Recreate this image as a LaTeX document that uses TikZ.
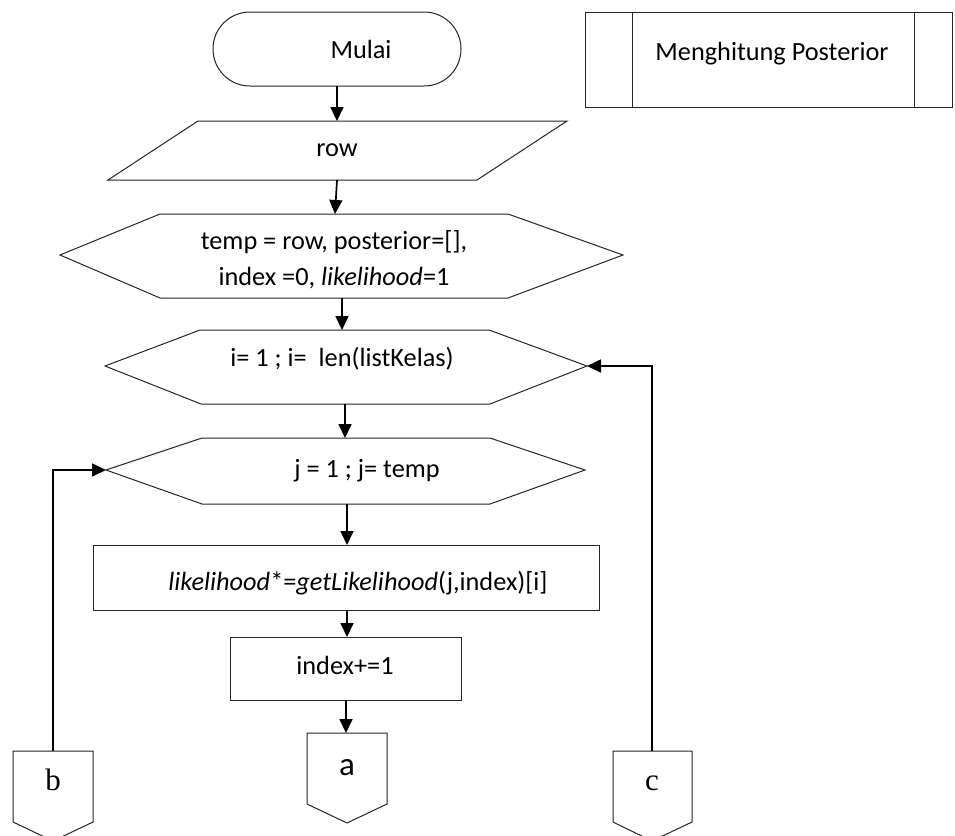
\documentclass[tikz,border=0pt]{standalone}
\usepackage{fontspec}
\setmainfont{Carlito}
\newfontfamily\serifletters{Liberation Serif}
\usetikzlibrary{arrows.meta}
\begin{document}
\begin{tikzpicture}[x=1pt,y=-1pt,
  outline/.style={draw=black!85, line width=1pt, fill=white},
  flow/.style={draw=black, line width=1.7pt, -{Triangle[length=14pt,width=13pt]}},
  label/.style={font=\fontsize{26.3}{36}\selectfont, inner sep=0, anchor=base},
  conn/.style={font=\serifletters\fontsize{31}{36}\selectfont, inner sep=0, anchor=base}]
\useasboundingbox (0,0) rectangle (955,835);
\clip (0,0) rectangle (955,835);

% start terminal
\draw[outline, rounded corners=36.9pt] (213,12) rectangle (461,86);
\node[label] (mulai) at (361,58) {Mulai};
\coordinate (mulaiS) at (337,86);

% predefined process (subroutine title)
\draw[outline] (585,12) rectangle (952,107);
\draw[outline] (632,12) -- (632,107) (914,12) -- (914,107);
\node[label] (title) at (772,60) {Menghitung Posterior};

% input parallelogram
\draw[outline] (198,121) -- (567,121) -- (477,180) -- (108,180) -- cycle;
\node[label] (row) at (337,156) {row};
\coordinate (rowN) at (337,121);
\coordinate (rowS) at (337,180);

% initialisation hexagon
\draw[outline] (160,214) -- (508,214) -- (623,255) -- (508,298) -- (160,298) -- (60,255) -- cycle;
\node[label] (init1) at (334,249) {temp = row, posterior=[],};
\node[label] (init2) at (334,285) {index =0, \textit{likelihood}=1};
\coordinate (h1N) at (335,214);
\coordinate (h1S) at (342,298);

% outer loop hexagon
\draw[outline] (200,330) -- (489,330) -- (587,366) -- (490,404) -- (201,404) -- (105,366) -- cycle;
\node[label] (loopi) at (342,366) {i= 1 ; i=\ \ len(listKelas)};
\coordinate (h2N) at (342,330);
\coordinate (h2S) at (345,404);
\coordinate (h2E) at (587,366);

% inner loop hexagon
\draw[outline] (202,438) -- (490,438) -- (585,470) -- (490,504) -- (202,504) -- (106,470) -- cycle;
\node[label] (loopj) at (367,477) {j = 1 ; j= temp};
\coordinate (h3N) at (345,438);
\coordinate (h3S) at (347,504);
\coordinate (h3W) at (106,470);

% process boxes
\draw[outline] (93,545) rectangle (599,610);
\node[label] (calc) at (358,590) {\textit{likelihood}*=\textit{getLikelihood}(j,index)[i]};
\coordinate (p1N) at (347,545);
\coordinate (p1S) at (347,610);

\draw[outline] (230,637) rectangle (461,700);
\node[label] (incr) at (345,674) {index+=1};
\coordinate (p2N) at (347,637);
\coordinate (p2S) at (346,700);

% off-page connectors
\draw[outline] (307,733) -- (387,733) -- (387,804) -- (347,823) -- (307,804) -- cycle;
\node[label, font=\fontsize{33}{36}\selectfont] (a) at (347,775) {a};
\coordinate (aN) at (346,733);

\draw[outline] (13,751) -- (93,751) -- (93,822) -- (53,841) -- (13,822) -- cycle;
\node[conn] (b) at (53,790) {b};
\coordinate (bN) at (53,751);

\draw[outline] (613,751) -- (692,751) -- (692,822) -- (652,841) -- (613,822) -- cycle;
\node[conn] (c) at (652,790) {c};
\coordinate (cN) at (652,751);

% flow lines
\draw[flow] (mulaiS) -- (rowN);
\draw[flow] (rowS) -- (h1N);
\draw[flow] (h1S) -- (h2N);
\draw[flow] (h2S) -- (h3N);
\draw[flow] (h3S) -- (p1N);
\draw[flow] (p1S) -- (p2N);
\draw[flow] (p2S) -- (aN);
\draw[flow] (bN) |- (h3W);
\draw[flow] (cN) |- (h2E);
\end{tikzpicture}
\end{document}
